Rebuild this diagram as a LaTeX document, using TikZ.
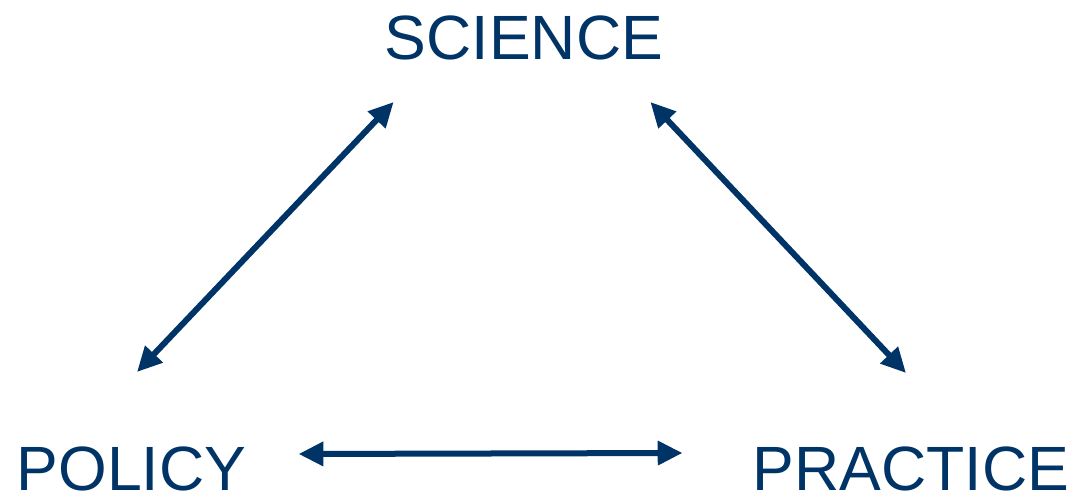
\documentclass[tikz,border=0pt]{standalone}
\usepackage{fontspec}
\setmainfont{Liberation Sans}
\usetikzlibrary{arrows.meta,positioning,calc}
\definecolor{navy}{HTML}{003366}

\begin{document}
\begin{tikzpicture}[
  x=0.025cm, y=-0.025cm,
  word/.style={inner sep=0pt, anchor=base, text=navy, font=\fontsize{44.5}{50}\selectfont},
  arr/.style={{Triangle[length=0.62cm,width=0.58cm]}-{Triangle[length=0.62cm,width=0.58cm]}, line width=0.15cm, navy}
]
\useasboundingbox (0,0) rectangle (1077,497);

\node[word] (science) at (524,60) {SCIENCE};
\node[word] (policy) at (131.5,490) {POLICY};
\node[word] (practice) at (911,490) {PRACTICE};

\draw[arr] ([shift={(5.5,-118)}]policy.base) -- ([shift={(9,42)}]science.base west);
\draw[arr] ([shift={(-13,42)}]science.base east) -- ([shift={(-5,-117)}]practice.base);
\draw[arr] ([shift={(52,-36)}]policy.base east) -- ([shift={(-70,-37)}]practice.base west);

\end{tikzpicture}
\end{document}
